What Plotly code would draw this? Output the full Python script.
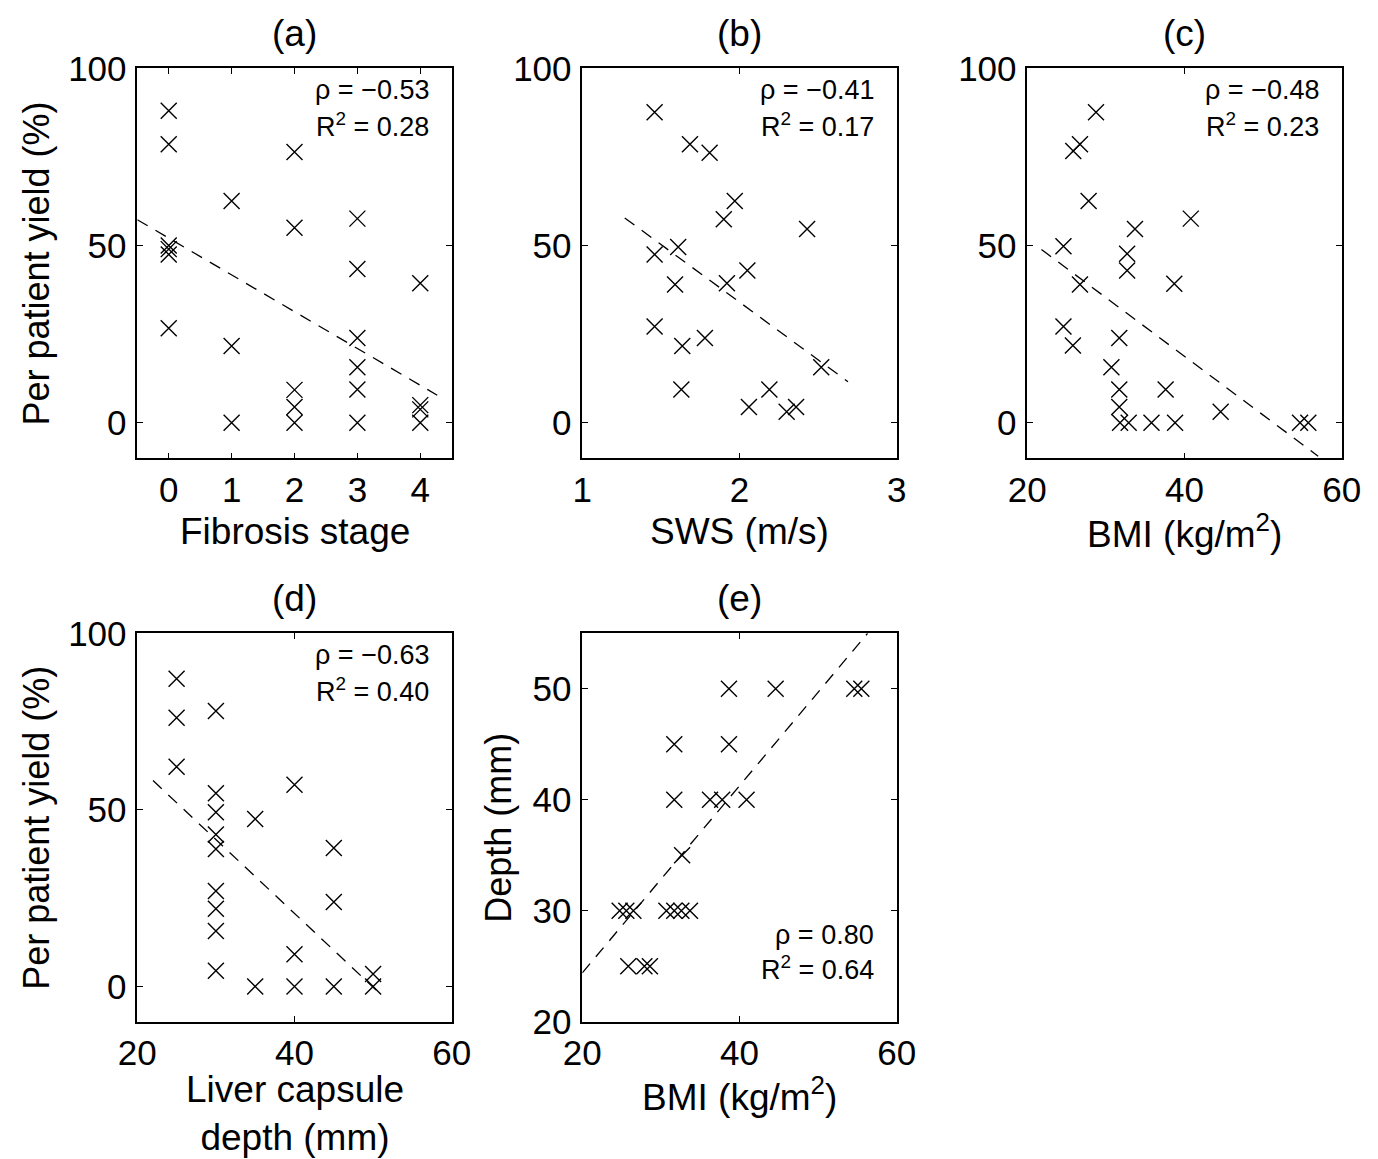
import plotly.graph_objects as go

W, H = 1378, 1159
FONT = "Liberation Sans"

# (a) fibrosis stage vs per patient yield
fib_x = [0, 0, 0, 0, 0, 0, 1, 1, 1, 2, 2, 2, 2, 2, 3, 3, 3, 3, 3, 3, 4, 4, 4, 4]
fib_y = [88, 78.6, 50, 49, 47.5, 26.7, 62.6, 21.7, 0, 76.4, 55, 9.3, 4.5, 0,
         57.6, 43.4, 23.9, 15.7, 9.4, 0, 39.4, 5, 3.8, 0]
fib_fit_x = [-0.5, 4.27]
fib_fit_y = [57.3, 7.8]

# (b) SWS vs yield
sws_x = [1.46, 1.685, 1.81, 1.97, 1.90, 2.43, 1.61, 1.46, 2.05, 1.59, 1.92, 1.46,
         1.78, 1.636, 2.52, 1.63, 2.19, 2.06, 2.30, 2.36]
sws_y = [87.6, 78.6, 76.2, 62.6, 57.4, 54.7, 49.6, 47.5, 43.0, 39.0, 39.4, 27.2,
         23.9, 21.7, 15.7, 9.4, 9.4, 4.5, 3.1, 4.5]
sws_fit_x = [1.27, 2.69]
sws_fit_y = [57.8, 11.6]

# (c) BMI vs yield
bmi_x = [28.74, 26.7, 25.85, 27.8, 40.8, 33.7, 24.6, 32.7, 32.7, 26.7, 38.7, 24.6,
         31.7, 25.8, 30.7, 31.7, 37.6, 31.7, 44.6, 31.8, 32.9, 35.8, 38.8, 54.7, 55.75]
bmi_y = [87.6, 78.6, 76.7, 62.6, 57.6, 54.7, 49.8, 47.7, 43.0, 39.0, 39.2, 27.2,
         23.9, 21.8, 15.7, 9.4, 9.4, 4.5, 3.1, 0, 0, 0, 0, 0, 0]
bmi_fit_x = [21.8, 57.0]
bmi_fit_y = [48.9, -9.4]

# (d) liver capsule depth vs yield
cap_x = [25, 25, 25, 30, 30, 30, 30, 30, 30, 30, 30, 30, 35, 35, 40, 40, 40,
         45, 45, 45, 50, 50]
cap_y = [87.1, 76.1, 62.2, 78.0, 54.7, 49.3, 43.0, 38.9, 27.0, 22.0, 15.7, 4.4,
         47.4, 0, 57.1, 9.1, 0, 39.2, 23.9, 0, 3.5, 0]
cap_fit_x = [22.0, 50.7]
cap_fit_y = [58.3, -1.7]

# (e) BMI vs depth
dep_x = [38.66, 44.6, 54.6, 55.5, 31.7, 38.66, 31.7, 36.25, 37.8, 40.9, 32.7,
         24.75, 25.6, 26.5, 30.7, 31.7, 32.6, 33.7, 25.85, 27.9, 28.6]
dep_y = [50, 50, 50, 50, 45, 45, 40, 40, 40, 40, 35,
         30, 30, 30, 30, 30, 30, 30, 25, 25, 25]
dep_fit_x = [20, 56.3]
dep_fit_y = [24.4, 55]

stats = [("ρ = −0.53", "R<sup>2</sup> = 0.28"),
         ("ρ = −0.41", "R<sup>2</sup> = 0.17"),
         ("ρ = −0.48", "R<sup>2</sup> = 0.23"),
         ("ρ = −0.63", "R<sup>2</sup> = 0.40"),
         ("ρ = 0.80", "R<sup>2</sup> = 0.64")]
labels = ["(a)", "(b)", "(c)", "(d)", "(e)"]
xtitles = ["Fibrosis stage", "SWS (m/s)", "BMI (kg/m<sup>2</sup>)",
           "Liver capsule<br>depth (mm)", "BMI (kg/m<sup>2</sup>)"]
ytitles = ["Per patient yield (%)", None, None, "Per patient yield (%)", "Depth (mm)"]

panels = [(fib_x, fib_y, fib_fit_x, fib_fit_y),
          (sws_x, sws_y, sws_fit_x, sws_fit_y),
          (bmi_x, bmi_y, bmi_fit_x, bmi_fit_y),
          (cap_x, cap_y, cap_fit_x, cap_fit_y),
          (dep_x, dep_y, dep_fit_x, dep_fit_y)]

# pixel boxes of the plot areas (left, right, top, bottom)
boxes = [(137.3, 451.7, 68.3, 458.3), (582.3, 896.7, 68.3, 458.3),
         (1027.3, 1341.7, 68.3, 458.3), (137.3, 451.7, 633.3, 1021.7),
         (582.3, 896.7, 633.3, 1021.7)]
xranges = [[-0.5, 4.5], [1, 3], [20, 60], [20, 60], [20, 60]]
xticks = [[0, 1, 2, 3, 4], [1, 2, 3], [20, 40, 60], [20, 40, 60], [20, 40, 60]]
yranges = [[-10, 100]] * 4 + [[20, 55]]
yticks = [[0, 50, 100]] * 4 + [[20, 30, 40, 50]]

fig = go.Figure()
annotations = []

def px(x):
    return x / W

def py(y):
    return 1 - y / H

for i, (xs, ys, fx, fy) in enumerate(panels):
    n = "" if i == 0 else str(i + 1)
    fig.add_trace(go.Scatter(x=xs, y=ys, mode="markers", xaxis="x" + n, yaxis="y" + n,
                             marker=dict(symbol="x-thin", size=16, color="black",
                                         line=dict(color="black", width=1.4)),
                             showlegend=False))
    fig.add_trace(go.Scatter(x=fx, y=fy, mode="lines", xaxis="x" + n, yaxis="y" + n,
                             line=dict(color="black", width=1.3, dash="12px,9px"),
                             showlegend=False))
    l, r, t, b = boxes[i]
    common = dict(showline=True, linecolor="black", linewidth=1.5, mirror="allticks",
                  ticks="inside", ticklen=6, tickcolor="black", showgrid=False,
                  zeroline=False, automargin=False,
                  tickfont=dict(family=FONT, size=35, color="black"))
    fig.layout["xaxis" + n] = dict(domain=[px(l), px(r)], range=xranges[i],
                                   tickvals=xticks[i], anchor="y" + n, **common)
    fig.layout["yaxis" + n] = dict(domain=[py(b), py(t)], range=yranges[i],
                                   tickvals=yticks[i], anchor="x" + n,
                                   ticklabelstandoff=2, **common)
    cx = (l + r) / 2
    # panel label
    annotations.append(dict(text=labels[i], x=px(cx), y=py(t - 35), xref="paper",
                            yref="paper", showarrow=False, xanchor="center",
                            yanchor="middle", font=dict(family=FONT, size=37)))
    # x axis title
    ty = b + 92 if i == 3 else b + 73
    annotations.append(dict(text=xtitles[i], x=px(cx), y=py(ty), xref="paper",
                            yref="paper", showarrow=False, xanchor="center",
                            yanchor="middle", font=dict(family=FONT, size=37)))
    # y axis title (closer to the axis when the tick labels are short)
    if ytitles[i]:
        off = 84 if i == 4 else 101
        annotations.append(dict(text=ytitles[i], x=px(l - off), y=py((t + b) / 2),
                                xref="paper", yref="paper", showarrow=False,
                                textangle=-90, xanchor="center", yanchor="middle",
                                font=dict(family=FONT, size=36)))
    # stats
    if i < 4:
        sy = [t + 22, t + 57]
    else:
        sy = [b - 87, b - 54]
    for txt, yy in zip(stats[i], sy):
        annotations.append(dict(text=txt, x=px(r - 21), y=py(yy), xref="paper",
                                yref="paper", showarrow=False, xanchor="right",
                                yanchor="middle", font=dict(family=FONT, size=27)))

fig.update_layout(width=W, height=H, margin=dict(l=0, r=0, t=0, b=0),
                  paper_bgcolor="white", plot_bgcolor="white",
                  font=dict(family=FONT, color="black"),
                  annotations=annotations)

# drop the default page margin so the figure sits at the window's corner
fig.write_html("out.html", config={"displayModeBar": False},
               post_script="document.body.style.margin='0';"
                           "document.body.style.overflow='hidden';")
